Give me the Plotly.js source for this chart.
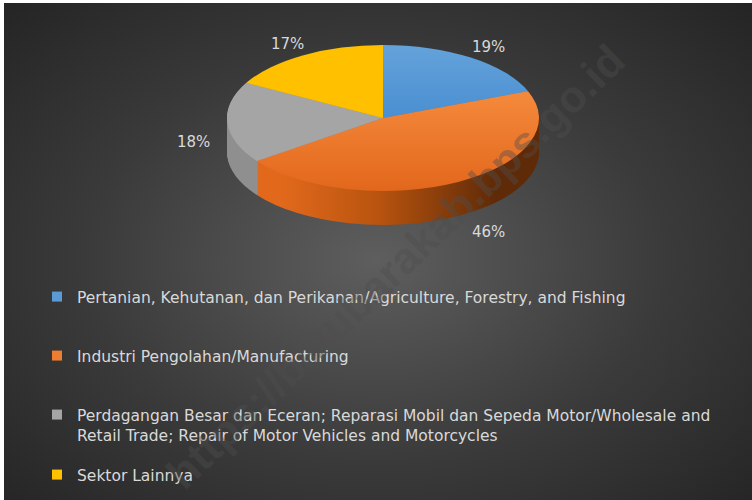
<!DOCTYPE html>
<html>
<head>
<meta charset="utf-8">
<script src="https://cdn.plot.ly/plotly-3.0.1.min.js"></script>
<style>
html,body{margin:0;padding:0;background:#ffffff;}
#wrap{position:relative;width:752px;height:500px;overflow:hidden;
  background:radial-gradient(ellipse farthest-corner at 50% 52%, #5e5e5e 0%, #3a3a3a 55%, #242424 100%);}
#chart{width:752px;height:500px;}
#frame{position:absolute;left:0;top:0;width:752px;height:500px;box-sizing:border-box;
  border-left:4px solid #ffffff;border-top:3px solid #ffffff;pointer-events:none;}
</style>
</head>
<body>
<div id="wrap"><div id="chart"></div><div id="frame"></div></div>
<script>
// ---- data ----
const categories = [
  'Pertanian, Kehutanan, dan Perikanan/Agriculture, Forestry, and Fishing',
  'Industri Pengolahan/Manufacturing',
  'Perdagangan Besar dan Eceran; Reparasi Mobil dan Sepeda Motor/Wholesale and<br>Retail Trade; Repair of Motor Vehicles and Motorcycles',
  'Sektor Lainnya'
];
const shares = [19, 46, 18, 17];
const topColors = ['#5b9bd5', '#ed7d31', '#a5a5a5', '#ffc000'];
const sideColors = ['#3f78ad', '#b5500f', '#858585', '#c79600'];
const watermark = 'https://batubarakab.bps.go.id';

// ---- geometry of the tilted pie (pixels) ----
const W = 752, H = 500;
const CX = 383, CY = 118, RX = 156, RY = 73, DEPTH = 34, NSIDE = 34;
const FONT = '"DejaVu Sans", "Open Sans", sans-serif';
const TXT = '#d9d9d9';

const data = [];
for (let k = 0; k < NSIDE; k++) {
  data.push({
    type: 'pie', values: shares, labels: categories, sort: false,
    direction: 'clockwise', rotation: 0, textinfo: 'none', hoverinfo: 'skip',
    showlegend: false, marker: {colors: sideColors, line: {width: 0}},
    domain: {x: [0.1, 0.9], y: [0.05, 0.95]}
  });
}
data.push({
  type: 'pie', values: shares, labels: categories, sort: false,
  direction: 'clockwise', rotation: 0, textinfo: 'none', hoverinfo: 'skip',
  showlegend: false, marker: {colors: topColors, line: {width: 0}},
  domain: {x: [0.1, 0.9], y: [0.05, 0.95]}
});
// legend entries
const legendNames = ['legend', 'legend2', 'legend3', 'legend4'];
categories.forEach((c, i) => {
  data.push({
    type: 'scatter', mode: 'markers', x: [null], y: [null], name: c,
    legend: legendNames[i], showlegend: true, hoverinfo: 'skip',
    marker: {symbol: 'square', size: 10, color: topColors[i]}
  });
});

// percentage labels around the ellipse
const total = shares.reduce((a, b) => a + b, 0);
const annotations = [];
let cum = 0;
shares.forEach((v, i) => {
  const mid = (cum + v / 2) / total * 2 * Math.PI;
  cum += v;
  const s = Math.sin(mid), c = Math.cos(mid);
  const px = CX + (RX + 32 + 35 * Math.max(0, -c)) * s;
  const py = CY - (RY + 16) * c + DEPTH * (1 - c) / 2 + (c < 0 ? 5 * (-c) : 0);
  annotations.push({
    xref: 'paper', yref: 'paper', x: px / W, y: 1 - py / H,
    xanchor: 'center', yanchor: 'middle', showarrow: false,
    text: Math.round(v / total * 100) + '%',
    font: {family: FONT, size: 15, color: TXT}
  });
});
annotations.push({
  xref: 'paper', yref: 'paper', x: 395 / W, y: 1 - 266 / H,
  xanchor: 'center', yanchor: 'middle', showarrow: false, textangle: -44,
  text: '<b>' + watermark + '</b>',
  font: {family: '"Liberation Sans", Arial, sans-serif', size: 44, color: 'rgba(78,78,78,0.42)'}
});

const legendTops = [280, 339, 398, 458];
const layout = {
  width: W, height: H,
  margin: {l: 0, r: 0, t: 0, b: 0},
  paper_bgcolor: 'rgba(0,0,0,0)', plot_bgcolor: 'rgba(0,0,0,0)',
  xaxis: {visible: false}, yaxis: {visible: false},
  annotations: annotations,
  showlegend: true
};
legendNames.forEach((nm, i) => {
  layout[nm] = {
    x: 37 / W, y: 1 - legendTops[i] / H, xanchor: 'left', yanchor: 'top',
    bgcolor: 'rgba(0,0,0,0)', borderwidth: 0, valign: 'top',
    font: {family: FONT, size: 15.5, color: TXT}
  };
});

Plotly.newPlot('chart', data, layout, {staticPlot: true, displayModeBar: false}).then(gd => {
  const groups = gd.querySelectorAll('.pielayer g.trace');
  const svg = groups[0].ownerSVGElement;
  const NS = 'http://www.w3.org/2000/svg';
  const defs = document.createElementNS(NS, 'defs');
  defs.innerHTML =
    '<linearGradient id="sideOrange" gradientUnits="userSpaceOnUse" x1="' + (CX - RX) + '" y1="0" x2="' + (CX + RX) + '" y2="0">' +
    '<stop offset="0" stop-color="#e2691c"/><stop offset="0.45" stop-color="#b9540f"/><stop offset="1" stop-color="#5f2a07"/></linearGradient>' +
    '<linearGradient id="sideGray" gradientUnits="userSpaceOnUse" x1="' + (CX - RX) + '" y1="0" x2="' + (CX + RX) + '" y2="0">' +
    '<stop offset="0" stop-color="#8f8f8f"/><stop offset="1" stop-color="#5a5a5a"/></linearGradient>' +
    '<linearGradient id="topOrange" x1="0" y1="0" x2="0" y2="1">' +
    '<stop offset="0" stop-color="#f58a3c"/><stop offset="1" stop-color="#e2671c"/></linearGradient>' +
    '<linearGradient id="topBlue" x1="0" y1="0" x2="0" y2="1">' +
    '<stop offset="0" stop-color="#64a2da"/><stop offset="1" stop-color="#4a8fd2"/></linearGradient>';
  svg.insertBefore(defs, svg.firstChild);
  groups.forEach((g, i) => {
    const bb = g.getBBox();
    const r = bb.width / 2, cx = bb.x + bb.width / 2, cy = bb.y + bb.height / 2;
    const off = i < NSIDE ? (NSIDE - i) * DEPTH / NSIDE : 0;
    g.setAttribute('transform',
      'translate(' + CX + ',' + (CY + off) + ') scale(' + (RX / r) + ',' + (RY / r) + ') translate(' + (-cx) + ',' + (-cy) + ')');
    const paths = g.querySelectorAll('g.slice path.surface');
    if (i < NSIDE) {
      if (paths[1]) paths[1].style.fill = 'url(#sideOrange)';
      if (paths[2]) paths[2].style.fill = 'url(#sideGray)';
    } else {
      if (paths[1]) paths[1].style.fill = 'url(#topOrange)';
      if (paths[0]) paths[0].style.fill = 'url(#topBlue)';
    }
  });
});
</script>
</body>
</html>
